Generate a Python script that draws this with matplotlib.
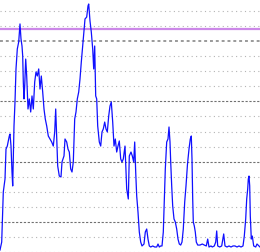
import numpy as np
import matplotlib
matplotlib.use('Agg')
import matplotlib.pyplot as plt

# sample positions (left to right) and series values
xs = [0, 1.7, 3.3, 5, 6, 7.3, 9.3, 10, 11, 12, 12.7, 13.3, 14, 15, 16, 17.3, 18.7, 20,
      21, 22, 22.7, 23.3, 24, 24.7, 25.7, 26.7, 28, 29.3, 30.7, 32, 33.3, 34.7, 36, 37.3,
      38.7, 40, 41.3, 42.7, 44, 45.3, 46.7, 48.3, 50, 51.7, 53.3, 54.7, 55.7, 56.7, 57.7,
      59.3, 61, 62, 64, 65, 66.7, 68, 69.3, 70.7, 72, 73.3, 74.7, 76, 77.3, 78.7, 80,
      81.3, 82.7, 84, 85, 86.7, 88, 88.7, 90, 91.3, 92.7, 93.7, 94.7, 95.7, 96.7, 97.7,
      99.3, 100.7, 102, 103.3, 104.7, 106, 107.3, 108.7, 110, 111.3, 112.7, 114, 115.3,
      116.7, 118, 119.3, 120.7, 122, 123.3, 125, 126.7, 128.3, 129.3, 131, 132.3, 133.7,
      134.7, 135.7, 136.7, 138, 139.3, 140.7, 142, 144, 145.3, 146.7, 148, 149.3, 150.7,
      152.7, 154.7, 156.7, 158, 159.3, 160.7, 162, 163.3, 164.3, 165.3, 166.7, 168, 169,
      170, 170.7, 171.7, 172.7, 174, 175.3, 176.7, 178, 179.3, 180.7, 182, 183.3, 184.7,
      186, 187.5, 189, 190.3, 191.3, 192, 192.7, 193.3, 194.3, 195.3, 196.3, 197.7, 200,
      202.3, 204.3, 206.3, 207.7, 209, 211, 212.3, 214.3, 215.7, 216.7, 217.7, 219.7,
      221.7, 223.7, 225, 227, 229, 231, 233, 235, 237, 239, 241, 243, 244.3, 245.7,
      246.7, 247.7, 248.3, 249, 249.7, 250.3, 251.3, 252.3, 253.7, 255.7, 257, 259, 260]
values = [1.0, 6.3, 39.7, 48.3, 68.3, 70.3, 77.0, 78.3, 70.3, 53.0, 43.7, 61.7, 83.7, 99.7,
          121.7, 135.0, 139.7, 151.7, 141.7, 137.0, 130.3, 113.0, 101.7, 110.3, 128.3,
          117.0, 95.0, 101.7, 93.0, 103.7, 95.0, 113.0, 119.7, 117.0, 121.7, 108.3, 117.0,
          106.3, 95.0, 88.3, 83.7, 77.0, 75.0, 73.0, 70.3, 79.7, 95.0, 75.0, 57.0, 50.3,
          49.7, 59.7, 63.7, 75.0, 73.0, 68.3, 66.3, 55.0, 53.0, 59.7, 88.3, 93.0, 101.7,
          106.3, 115.0, 126.3, 137.0, 146.3, 155.0, 156.3, 163.7, 165.0, 153.7, 146.3,
          135.0, 121.7, 137.0, 103.7, 101.7, 83.7, 73.0, 70.3, 79.7, 81.7, 86.3, 81.7,
          79.7, 90.3, 97.0, 99.7, 86.3, 70.3, 75.0, 66.3, 70.3, 73.7, 61.7, 59.7, 61.7,
          70.3, 41.7, 35.0, 63.7, 66.3, 63.7, 59.7, 73.0, 53.0, 37.0, 26.3, 13.0, 6.3,
          3.7, 5.0, 13.0, 15.0, 8.3, 3.7, 3.0, 3.7, 3.0, 3.0, 5.0, 3.0, 3.7, 3.7, 13.0,
          35.0, 55.0, 73.0, 75.0, 83.0, 73.0, 59.7, 43.7, 30.3, 21.7, 19.7, 15.0, 8.3,
          5.0, 4.3, 6.3, 15.0, 33.0, 43.7, 58.3, 68.3, 75.0, 77.0, 61.7, 35.0, 19.7,
          17.0, 13.0, 6.3, 4.3, 4.3, 5.0, 4.3, 3.7, 8.3, 3.0, 3.7, 3.0, 3.7, 6.3, 13.7,
          3.7, 3.0, 3.7, 11.7, 3.7, 3.0, 3.7, 3.0, 3.7, 3.7, 3.0, 3.7, 3.0, 3.7, 10.3,
          21.7, 35.0, 41.7, 48.3, 50.3, 43.7, 23.7, 8.3, 10.3, 3.7, 3.0, 5.0, 3.7, 3.0]
grid_levels = [0, 10, 20, 30, 40, 50, 60, 70, 80, 90, 100, 110, 120, 130, 140, 150, 160]
limit_level = 148

fig = plt.figure(figsize=(2.6, 2.53), dpi=100)
ax = fig.add_axes([0, 0, 1, 1])
ax.set_xlim(0, 260)
ax.set_ylim(-0.33, 168.33)
ax.axis('off')

# horizontal grid, a few heavier ones
for g in grid_levels:
    if g == 140:
        ax.axhline(g, color='#9a9a9a', lw=1.4, ls=(0, (1.5, 1.5)), zorder=1)
    elif g in (20, 60, 100):
        ax.axhline(g, color='#707070', lw=0.8, ls=(0, (2, 1.5)), zorder=1)
    else:
        ax.axhline(g, color='#b4b4b4', lw=0.8, ls=(0, (1, 3)), zorder=1)

ax.axhline(limit_level, color='#cc88e8', lw=1.6, zorder=2)
ax.plot(xs, values, color='#1010ff', lw=0.9, zorder=3)

fig.savefig('out.png', dpi=100)
